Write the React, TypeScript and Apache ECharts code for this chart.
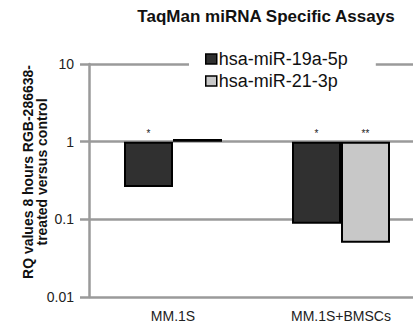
import React, { useEffect, useRef } from "react";
import * as echarts from "echarts";

const categories = ["MM.1S", "MM.1S+BMSCs"];
const seriesNames = ["hsa-miR-19a-5p", "hsa-miR-21-3p"];
const mir19a = [0.26, 0.088];
const mir21 = [1.08, 0.05];
const sig19a = ["*", "*"];
const sig21 = ["", "**"];
const yTicks = [0.01, 0.1, 1, 10];
const yName = "RQ values 8 hours RGB-286638-\ntreated versus control";

const FONT = "'Liberation Sans', Arial, sans-serif";

export default function App() {
  const ref = useRef<HTMLDivElement>(null);
  useEffect(() => {
    if (!ref.current) return;
    const chart = echarts.init(ref.current, undefined, { renderer: "svg" });
    const sigLabel = (arr: string[]) => ({
      show: true,
      position: "top" as const,
      distance: 3,
      color: "#222",
      fontSize: 10,
      fontFamily: FONT,
      formatter: (p: any) => arr[p.dataIndex],
    });
    chart.setOption({
      animation: false,
      backgroundColor: "#fff",
      title: {
        text: "TaqMan miRNA Specific Assays",
        left: 261,
        textAlign: "center",
        top: 3,
        textStyle: { fontFamily: FONT, fontSize: 17, fontWeight: "bold", color: "#111" },
      },
      graphic: [
        {
          type: "text",
          x: 35,
          y: 172,
          rotation: Math.PI / 2,
          style: {
            text: yName,
            fontFamily: FONT,
            fontSize: 14,
            fontWeight: "bold",
            fill: "#111",
            lineHeight: 14,
            align: "center",
            verticalAlign: "middle",
          },
        },
      ],
      legend: {
        orient: "vertical",
        left: 189,
        top: 48,
        padding: [2, 28, 2, 16],
        backgroundColor: "#fff",
        itemWidth: 11,
        itemHeight: 10,
        itemGap: 4,
        icon: "rect",
        itemStyle: { borderWidth: 1.5, borderColor: "#000" },
        textStyle: { fontFamily: FONT, fontSize: 18, color: "#111", padding: [0, 0, 0, -3] },
        data: seriesNames,
      },
      grid: { left: 89, width: 336, top: 64, bottom: 31, containLabel: false, outerBoundsMode: "none" },
      xAxis: {
        type: "category",
        data: categories,
        axisLine: { show: false },
        axisTick: { show: false },
        axisLabel: { fontFamily: FONT, fontSize: 14, color: "#222", margin: 12 },
      },
      yAxis: {
        type: "log",
        logBase: 10,
        min: yTicks[0],
        max: yTicks[yTicks.length - 1],
        axisLine: { show: true, lineStyle: { color: "#9a9a9a", width: 2.5 } },
        axisTick: { show: true, length: 9, lineStyle: { color: "#9a9a9a", width: 2.5 } },
        splitLine: { show: true, lineStyle: { color: "#9a9a9a", width: 2.5 } },
        minorTick: { show: false },
        axisLabel: {
          fontFamily: FONT,
          fontSize: 14,
          color: "#222",
          margin: 15,
          formatter: (v: number) => (yTicks.includes(+v.toPrecision(3)) ? String(+v.toPrecision(3)) : ""),
        },
      },
      series: [
        {
          name: seriesNames[0],
          type: "bar",
          data: mir19a,
          barWidth: 49,
          barGap: "0%",
          itemStyle: { color: "#303030", borderColor: "#000", borderWidth: 2 },
          label: sigLabel(sig19a),
        },
        {
          name: seriesNames[1],
          type: "bar",
          data: mir21,
          barWidth: 49,
          barGap: "0%",
          itemStyle: { color: "#c8c8c8", borderColor: "#000", borderWidth: 2 },
          label: sigLabel(sig21),
        },
      ],
    });
    return () => chart.dispose();
  }, []);
  return <div ref={ref} style={{ width: 413, height: 328, position: "absolute", left: 0, top: 0 }} />;
}
